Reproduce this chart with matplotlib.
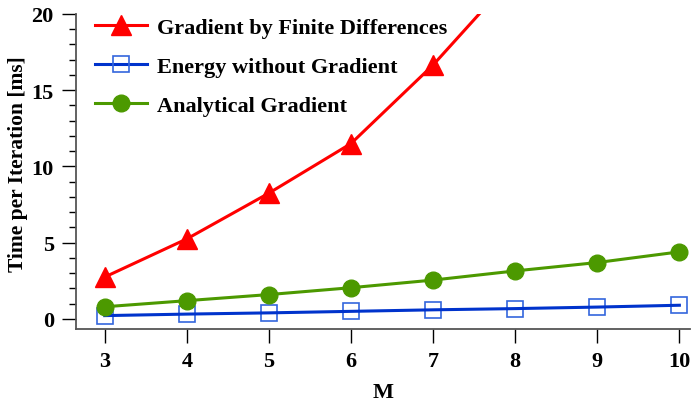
import matplotlib.pyplot as plt
from matplotlib.ticker import MultipleLocator

# values
M = [3, 4, 5, 6, 7, 8, 9, 10]
finite_diff = [2.75, 5.25, 8.25, 11.5, 16.65, 22.6]
energy_only = [0.22, 0.32, 0.4, 0.5, 0.6, 0.68, 0.78, 0.9]
analytical = [0.8, 1.2, 1.6, 2.05, 2.55, 3.15, 3.7, 4.4]

plt.rcParams['font.family'] = ['Liberation Serif', 'DejaVu Serif']
plt.rcParams['font.weight'] = 'bold'

fig = plt.figure(figsize=(6.93, 4.02), dpi=100)
ax = fig.add_axes([0.1097, 0.179, 0.886, 0.784])

red = '#ff0000'
blue_line = '#0033cc'
blue_mark = '#3366dd'
green = '#4c9900'

ax.plot(M[:len(finite_diff)], finite_diff, color=red, lw=2.2, marker='^',
        markersize=14, label='Gradient by Finite Differences')
ax.plot(M, energy_only, color=blue_mark, lw=0, marker='s', markersize=11,
        markerfacecolor='none', markeredgewidth=1.2)
ax.plot(M, energy_only, color=blue_line, lw=2.2)
ax.plot([], [], color=blue_line, lw=2.2, marker='s', markersize=11,
        markerfacecolor='none', markeredgecolor=blue_mark, markeredgewidth=1.2,
        label='Energy without Gradient')
ax.plot(M, analytical, color=green, lw=2.2, marker='o', markersize=12,
        label='Analytical Gradient')

ax.set_xlim(2.65, 10.13)
ax.set_ylim(-0.66, 20)
ax.set_xticks(M)
ax.yaxis.set_major_locator(MultipleLocator(5))
ax.yaxis.set_minor_locator(MultipleLocator(1))

for s in ['top', 'right']:
    ax.spines[s].set_visible(False)
for s in ['left', 'bottom']:
    ax.spines[s].set_color('#555555')
    ax.spines[s].set_linewidth(1.3)

ax.tick_params(axis='both', which='major', length=10, width=1, labelsize=16, pad=6)
ax.tick_params(axis='y', which='minor', length=5, width=1)

ax.set_xlabel('M', fontsize=16, fontweight='bold', labelpad=8)
ax.set_ylabel('Time per Iteration [ms]', fontsize=15.5, fontweight='bold')
ax.yaxis.set_label_coords(-0.078, 0.527)

leg = ax.legend(loc='upper left', frameon=False, fontsize=16, handlelength=2.35,
                handletextpad=0.45, labelspacing=0.83, borderaxespad=0.1,
                bbox_to_anchor=(0.013, 1.025))

fig.savefig('out.png', dpi=100)
